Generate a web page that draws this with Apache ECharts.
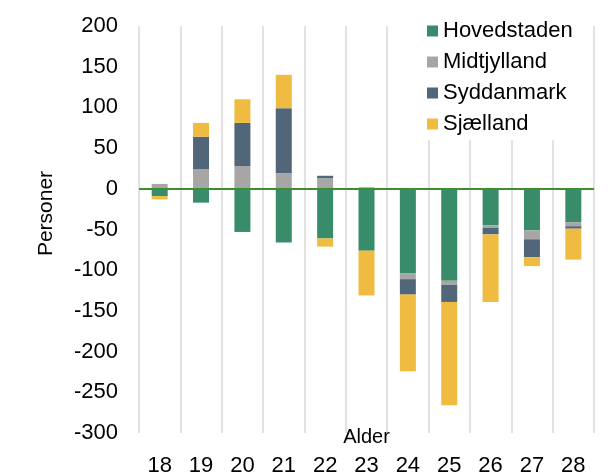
<!DOCTYPE html>
<html><head><meta charset="utf-8">
<script src="https://cdn.jsdelivr.net/npm/echarts@6/dist/echarts.min.js"></script>
<style>html,body{margin:0;padding:0;background:#fff}#c{width:613px;height:472px}</style>
</head><body><div id="c"></div>
<script>
var categories = ['18','19','20','21','22','23','24','25','26','27','28'];
var hovedstaden = [-9, -17, -53, -66, -61, -76, -104, -113, -45, -51, -41];
var midtjylland = [6, 24, 28, 19, 13, 2, -7, -5, -3, -11, -5];
var syddanmark = [0, 40, 53, 80, 3, 0, -19, -21, -8, -22, -3];
var sjaelland = [-4, 17, 29, 41, -10, -55, -94, -127, -83, -11, -38];
var yTicks = {min: -300, max: 200, interval: 50};

var font = 'Liberation Sans, Arial, sans-serif';
function s(name, data, color, extra) {
  var o = {name: name, type: 'bar', stack: 'total', data: data, barWidth: 16,
    itemStyle: {color: color}};
  if (extra) for (var k in extra) o[k] = extra[k];
  return o;
}
var chart = echarts.init(document.getElementById('c'));
chart.setOption({
  animation: false,
  textStyle: {fontFamily: font},
  grid: {left: 139, right: 19, top: 26, bottom: 39, containLabel: false, outerBoundsMode: 'none'},
  legend: {
    orient: 'vertical', left: 422, top: 15, padding: [5, 5, 5, 5],
    backgroundColor: '#fff', icon: 'rect', itemWidth: 11, itemHeight: 11,
    itemGap: 9,
    textStyle: {fontSize: 22, lineHeight: 21, color: '#000', fontFamily: font},
    data: ['Hovedstaden', 'Midtjylland', 'Syddanmark', 'Sjælland']
  },
  xAxis: {
    type: 'category', data: categories, position: 'bottom',
    name: 'Alder', nameLocation: 'middle', nameGap: -6, nameMoveOverlap: false,
    nameTextStyle: {fontSize: 20, color: '#000', fontFamily: font},
    axisLine: {show: false}, axisTick: {show: false},
    axisLabel: {fontSize: 22, color: '#000', margin: 22, fontFamily: font},
    splitLine: {show: true, lineStyle: {color: '#d9d9d9', width: 1.5}}
  },
  yAxis: {
    type: 'value', min: yTicks.min, max: yTicks.max, interval: yTicks.interval,
    name: 'Personer', nameLocation: 'middle', nameGap: 82, nameRotate: 90, nameMoveOverlap: false,
    nameTextStyle: {fontSize: 21, color: '#000', fontFamily: font, padding: [0, 0, 0, 32]},
    axisLine: {show: false}, axisTick: {show: false},
    axisLabel: {fontSize: 22, color: '#000', margin: 21, fontFamily: font},
    splitLine: {show: false}
  },
  series: [
    s('Hovedstaden', hovedstaden, '#388c6a'),
    s('Midtjylland', midtjylland, '#a6a6a6'),
    s('Syddanmark', syddanmark, '#52667a'),
    s('Sjælland', sjaelland, '#efbb40', {
      markLine: {silent: true, symbol: 'none', label: {show: false},
        lineStyle: {color: '#3e8f2f', width: 2, type: 'solid'},
        data: [{yAxis: 0}]}
    })
  ]
});
</script></body></html>
